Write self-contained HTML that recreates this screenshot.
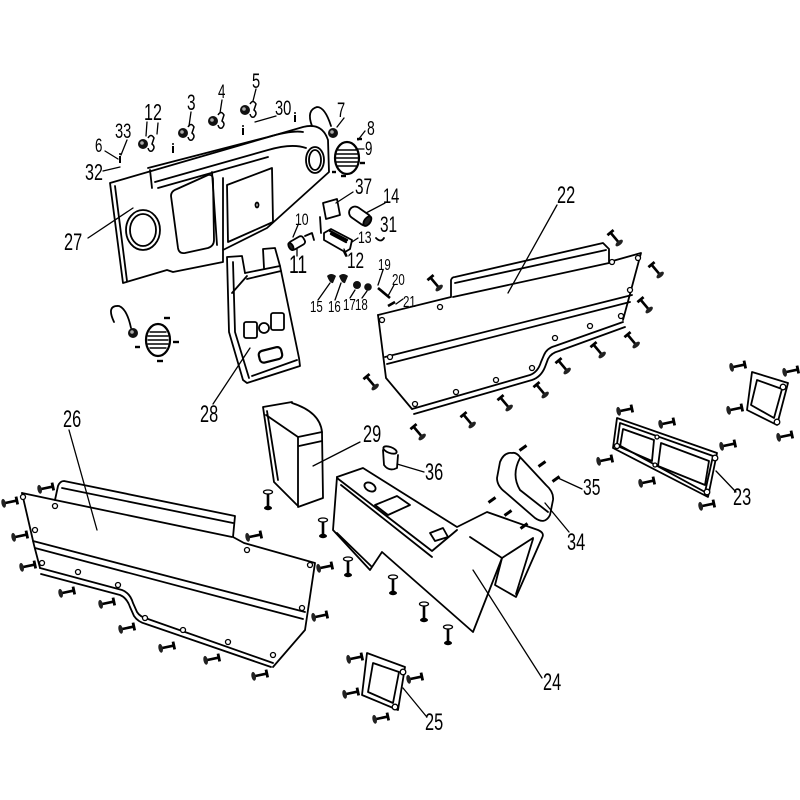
<!DOCTYPE html>
<html><head><meta charset="utf-8">
<style>
html,body{margin:0;padding:0;background:#fff}
svg{display:block}
text{font-family:"Liberation Sans",sans-serif;fill:#000}
</style></head>
<body>
<svg width="800" height="800" viewBox="0 0 800 800" xmlns="http://www.w3.org/2000/svg">
<defs>
<g id="b">
<line x1="-6" y1="0" x2="7" y2="0" stroke="#000" stroke-width="2.6"/>
<ellipse cx="-6.5" cy="0" rx="2.2" ry="4.5" fill="#222"/>
<line x1="7" y1="-4" x2="7" y2="4" stroke="#000" stroke-width="2.8"/>
</g>
<g id="v">
<ellipse cx="0" cy="-8" rx="4.5" ry="2" fill="#fff" stroke="#000" stroke-width="1.3"/>
<line x1="0" y1="-6" x2="0" y2="7" stroke="#000" stroke-width="2.6"/>
<ellipse cx="0" cy="8" rx="4" ry="2.2" fill="#000"/>
</g>
<g id="d"><line x1="-3.5" y1="2.5" x2="3.5" y2="-2.5" stroke="#000" stroke-width="3"/></g>
<g id="k"><circle cx="0" cy="0" r="5" fill="#111"/><circle cx="-1" cy="-1" r="1.8" fill="#aaa"/></g>
<g id="h"><path d="M5,-6 Q8,-11 11,-6 L9,0 Q13,3 9,7 Q6,8 5,4" fill="none" stroke="#000" stroke-width="1.5"/></g>
<g id="s"><line x1="0" y1="-3" x2="0" y2="4" stroke="#000" stroke-width="2"/><circle cx="0" cy="-5" r="1" fill="#000"/></g>
</defs>

<g fill="none" stroke="#000" stroke-width="1.8" stroke-linejoin="round" stroke-linecap="round">

<!-- ===== Dashboard 27 ===== -->
<path d="M110,183 L303,127 Q322,122 328,140 L329,172 L267,228 L223,250 L223,262 L173,272 L167,270 L123,283 Z"/>
<path d="M115,186 L127,281"/>
<path d="M148,168 L268,137 Q292,130 303,132"/>
<path d="M152,188 L150,170"/>
<path d="M155,182 L268,150 Q292,143 306,148"/>
<path d="M158,188 L268,157"/>
<path d="M177,189 L208,175 Q213,174 213,180 L214,240 Q214,246 208,248 L185,253 Q179,254 178,248 L171,196 Q171,191 177,189 Z"/>
<path d="M212,172 L217,245"/>
<path d="M223,178 L223,250"/>
<path d="M227,185 L272,168 L273,222 L228,242 Z"/>
<ellipse cx="257" cy="205" rx="1.5" ry="2.5"/>
<ellipse cx="143" cy="230" rx="17" ry="20"/>
<ellipse cx="143" cy="230" rx="13" ry="16"/>
<ellipse cx="315" cy="160" rx="9" ry="13"/>
<ellipse cx="315" cy="160" rx="6" ry="10"/>

<!-- loop + vent 9 -->
<path d="M312,126 Q306,110 317,107 Q325,107 331,126"/>
<ellipse cx="347" cy="158" rx="12" ry="16" stroke-width="2.2"/>
<path d="M338,150 H356 M336,154 H358 M336,158 H358 M336,162 H358 M338,166 H356" stroke-width="1.4"/>

<!-- left vent -->
<path d="M114,322 Q106,305 119,306 Q127,309 131,328"/>
<ellipse cx="158" cy="340" rx="12" ry="16" stroke-width="2.2"/>
<path d="M150,332 H166 M148,336 H168 M148,340 H168 M148,344 H168 M150,348 H166" stroke-width="1.4"/>

<!-- 37 plate, 14 cylinder, bracket -->
<path d="M323,203 L337,199 L340,215 L326,219 Z"/>
<path d="M320,217 L321,233"/>
<g transform="translate(360,216) rotate(35)">
<rect x="-12" y="-6" width="24" height="12" rx="6"/>
<ellipse cx="9" cy="0" rx="3" ry="5.5" fill="#222"/>
</g>
<path d="M376,238 Q381,243 384,238"/>
<path d="M324,233 L331,229 L352,240 L350,249 L345,252 L324,240 Z"/>
<path d="M330,231 L347,240 M331,234 L346,242" stroke-width="2.4"/>
<path d="M344,252 L346,256"/>
<g transform="translate(297,243) rotate(-30)">
<rect x="-8" y="-4.5" width="16" height="9" rx="3"/>
<ellipse cx="-7" cy="0" rx="2" ry="4" fill="#222"/>
</g>
<path d="M305,236 L312,233 L314,240"/>

<!-- 28 -->
<path d="M245,273 L242,256 L227,257 L229,332 L243,380 L247,383 L300,366 L299,358 L280,266 L275,248 L263,249 L264,268"/>
<path d="M245,273 L280,266 M247,279 L281,271"/>
<path d="M233,262 L235,332 L249,378"/>
<path d="M232,293 L247,276"/>
<path d="M252,376 L297,360"/>
<rect x="244" y="322" width="13" height="16" rx="2"/>
<circle cx="264" cy="328" r="5"/>
<rect x="271" y="313" width="13" height="17" rx="2"/>
<rect x="259" y="349" width="23" height="12" rx="4" transform="rotate(-14 270 355)" stroke-width="2.2"/>

<!-- 29 box -->
<path d="M263,407 L292,402 M263,407 L274,482 L297,505 M267,411 L278,480"/>
<path d="M266,415 L298,437 L322,432 M292,403 Q320,412 322,432"/>
<path d="M298,437 L298,507 L323,498 L322,432"/>
<path d="M299,446 L322,441"/>

<!-- 36 cup -->
<ellipse cx="390" cy="450" rx="7" ry="3" transform="rotate(20 390 450)"/>
<path d="M383,450 L384,465 Q389,472 397,468 L398,455"/>

<!-- 24 console -->
<path d="M337,477 L363,468 L457,527 L487,512 L538,530 Q545,533 542,538 L516,597 L495,585 L502,558"/>
<path d="M337,477 L333,530 L370,570 L382,552 L473,632 L502,558 L533,538"/>
<path d="M337,478 L432,551 L457,530"/>
<path d="M341,485 L432,557"/>
<path d="M470,537 L502,558"/>
<path d="M533,539 L516,594"/>
<path d="M337,533 L371,566"/>
<ellipse cx="370" cy="487" rx="6" ry="4" transform="rotate(30 370 487)"/>
<path d="M375,505 L397,496 L410,505 L388,515 Z"/>
<path d="M430,533 L443,528 L448,537 L435,541 Z"/>

<!-- 34 pad -->
<path d="M512,453 Q504,452 500,462 L497,478 Q497,486 505,492 L535,518 Q545,525 550,515 L553,500 Q554,492 546,485 L520,457 Q516,452 512,453 Z"/>
<path d="M520,458 Q511,475 520,490 L548,512"/>

<!-- 22 panel -->
<path d="M378,315 L451,297 L451,280 Q452,277 455,277 L603,243 L609,249 L609,262 L641,253 L623,320"/>
<path d="M455,283 L606,250"/>
<path d="M453,297 L609,263"/>
<path d="M378,315 L386,378 L412,409"/>
<path d="M385,357 L632,295 M387,364 L630,302"/>
<path d="M412,409 L530,375 Q538,372 541,362 L544,355 Q547,348 555,346 L623,322"/>
<path d="M414,414 L532,380 Q541,377 545,367 L548,359 Q551,353 559,351 L625,327"/>

<!-- 26 panel -->
<path d="M22,493 L55,500 L58,486 Q60,481 64,481 L235,516 L233,537 L244,543 L315,563 L305,630 L273,667"/>
<path d="M62,488 L233,523"/>
<path d="M55,500 L232,537"/>
<path d="M22,493 L34,545 L40,568"/>
<path d="M33,541 L305,612 M35,548 L303,619"/>
<path d="M40,568 L122,590 Q130,593 133,603 L137,612 Q140,617 148,619 L273,663"/>
<path d="M41,574 L120,595 Q127,598 130,607 L134,616 Q138,622 146,624 L271,667"/>

<!-- 23 frame -->
<path d="M617,418 L717,453 L708,497 L613,448 Z"/>
<path d="M620,423 L713,456 L705,492 L617,444 Z"/>
<path d="M623,429 L654,440 L652,461 L620,447 Z"/>
<path d="M661,443 L709,461 L705,485 L658,466 Z"/>
<path d="M752,372 L788,383 L777,425 L747,410 Z"/>
<path d="M757,380 L782,389 L774,418 L751,405 Z"/>

<!-- 25 frame -->
<path d="M367,653 L405,667 L398,710 L362,695 Z"/>
<path d="M373,663 L399,672 L393,703 L368,692 Z"/>

<!-- leaders -->
<g stroke-width="1.3">
<path d="M88,238 L133,208"/>
<path d="M105,151 L118,159 M127,140 L121,155 M103,171 L120,167"/>
<path d="M147,122 L146,136 M158,123 L157,134 M191,112 L189,126 M222,100 L220,113 M256,89 L253,101"/>
<path d="M276,116 L255,122 M344,118 L337,127 M365,131 L358,140 M364,149 L356,149"/>
<path d="M353,192 L336,203 M385,203 L366,213 M358,238 L352,242 M347,256 L344,249"/>
<path d="M298,225 L293,237 M297,256 L297,249"/>
<path d="M318,300 L330,283 M335,300 L341,283 M350,298 L355,290 M362,298 L367,291"/>
<path d="M383,270 L378,285 M394,285 L388,296 M403,299 L396,304"/>
<path d="M557,205 L508,293"/>
<path d="M69,430 L97,530"/>
<path d="M213,404 L250,348"/>
<path d="M360,442 L313,466"/>
<path d="M424,472 L397,464"/>
<path d="M582,489 L558,478"/>
<path d="M569,532 L545,503"/>
<path d="M473,570 L542,678"/>
<path d="M736,492 L716,471"/>
<path d="M426,716 L403,688"/>
</g>
</g>

<!-- caps and small parts -->
<g fill="#111">
<path d="M327,276 Q331,272 336,276 L333,283 Q330,284 327,276 Z"/>
<path d="M339,276 Q343,272 348,276 L345,283 Q342,284 339,276 Z"/>
<circle cx="357" cy="285" r="4"/>
<circle cx="368" cy="287" r="3.8"/>
</g>
<line x1="378" y1="288" x2="390" y2="298" stroke="#000" stroke-width="2.6"/>
<line x1="388" y1="306" x2="395" y2="302" stroke="#000" stroke-width="2.6"/>

<!-- knobs and hooks -->
<use href="#k" x="143" y="144"/><use href="#h" x="143" y="144"/>
<use href="#k" x="183" y="133"/><use href="#h" x="183" y="133"/>
<use href="#k" x="213" y="121"/><use href="#h" x="213" y="121"/>
<use href="#k" x="245" y="110"/><use href="#h" x="245" y="110"/>
<use href="#k" x="333" y="133"/>
<use href="#k" x="133" y="333"/>
<use href="#s" x="173" y="149"/>
<use href="#s" x="243" y="131"/>
<use href="#s" x="295" y="118"/>
<use href="#s" x="120" y="159"/>

<!-- dashes around vents -->
<g stroke="#000" stroke-width="2.4">
<line x1="357" y1="139" x2="362" y2="139"/>
<line x1="360" y1="163" x2="365" y2="163"/>
<line x1="341" y1="176" x2="346" y2="176"/>
<line x1="332" y1="172" x2="336" y2="172"/>
<line x1="164" y1="318" x2="170" y2="318"/>
<line x1="173" y1="342" x2="179" y2="342"/>
<line x1="157" y1="361" x2="163" y2="361"/>
<line x1="135" y1="347" x2="140" y2="347"/>
</g>

<!-- 34 dashes -->
<use href="#d" x="523" y="448"/><use href="#d" x="542" y="464"/><use href="#d" x="556" y="479"/>
<use href="#d" x="492" y="500"/><use href="#d" x="508" y="513"/><use href="#d" x="524" y="526"/>

<!-- holes -->
<g fill="#fff" stroke="#000" stroke-width="1.3">
<circle cx="382" cy="320" r="2.5"/><circle cx="440" cy="307" r="2.5"/><circle cx="612" cy="262" r="2.5"/>
<circle cx="638" cy="258" r="2.5"/><circle cx="630" cy="290" r="2.5"/><circle cx="390" cy="357" r="2.5"/>
<circle cx="415" cy="404" r="2.5"/><circle cx="456" cy="392" r="2.5"/><circle cx="496" cy="380" r="2.5"/>
<circle cx="532" cy="368" r="2.5"/><circle cx="555" cy="338" r="2.5"/><circle cx="590" cy="326" r="2.5"/>
<circle cx="621" cy="316" r="2.5"/>
<circle cx="23" cy="497" r="2.5"/><circle cx="55" cy="506" r="2.5"/><circle cx="35" cy="530" r="2.5"/>
<circle cx="42" cy="563" r="2.5"/><circle cx="78" cy="572" r="2.5"/><circle cx="118" cy="585" r="2.5"/>
<circle cx="145" cy="618" r="2.5"/><circle cx="183" cy="630" r="2.5"/><circle cx="228" cy="642" r="2.5"/>
<circle cx="273" cy="655" r="2.5"/><circle cx="302" cy="608" r="2.5"/><circle cx="310" cy="565" r="2.5"/>
<circle cx="247" cy="550" r="2.5"/>
<circle cx="715" cy="458" r="2.8"/><circle cx="707" cy="492" r="2.8"/><circle cx="617" cy="446" r="2.5"/>
<circle cx="657" cy="437" r="2"/><circle cx="655" cy="465" r="2"/>
<circle cx="783" cy="387" r="2.8"/><circle cx="777" cy="422" r="2.8"/>
<circle cx="403" cy="672" r="2.8"/><circle cx="395" cy="707" r="2.8"/>
</g>

<!-- bolts panel 22 -->
<use href="#b" transform="translate(435,283) rotate(230)"/>
<use href="#b" transform="translate(615,238) rotate(230)"/>
<use href="#b" transform="translate(656,270) rotate(230)"/>
<use href="#b" transform="translate(645,305) rotate(230)"/>
<use href="#b" transform="translate(632,340) rotate(230)"/>
<use href="#b" transform="translate(598,350) rotate(230)"/>
<use href="#b" transform="translate(563,366) rotate(230)"/>
<use href="#b" transform="translate(541,390) rotate(230)"/>
<use href="#b" transform="translate(505,403) rotate(230)"/>
<use href="#b" transform="translate(468,420) rotate(230)"/>
<use href="#b" transform="translate(418,432) rotate(230)"/>
<use href="#b" transform="translate(371,382) rotate(230)"/>

<!-- bolts panel 26 -->
<use href="#b" transform="translate(10,502) rotate(-12)"/>
<use href="#b" transform="translate(46,488) rotate(-12)"/>
<use href="#b" transform="translate(20,536) rotate(-12)"/>
<use href="#b" transform="translate(28,566) rotate(-12)"/>
<use href="#b" transform="translate(67,592) rotate(-12)"/>
<use href="#b" transform="translate(107,603) rotate(-12)"/>
<use href="#b" transform="translate(127,628) rotate(-12)"/>
<use href="#b" transform="translate(167,647) rotate(-12)"/>
<use href="#b" transform="translate(212,659) rotate(-12)"/>
<use href="#b" transform="translate(260,675) rotate(-12)"/>
<use href="#b" transform="translate(320,616) rotate(-12)"/>
<use href="#b" transform="translate(325,567) rotate(-12)"/>
<use href="#b" transform="translate(254,536) rotate(-12)"/>

<!-- bolts 23 -->
<use href="#b" transform="translate(625,410) rotate(-12)"/>
<use href="#b" transform="translate(667,423) rotate(-12)"/>
<use href="#b" transform="translate(728,445) rotate(-12)"/>
<use href="#b" transform="translate(605,460) rotate(-12)"/>
<use href="#b" transform="translate(647,482) rotate(-12)"/>
<use href="#b" transform="translate(707,505) rotate(-12)"/>
<use href="#b" transform="translate(738,366) rotate(-12)"/>
<use href="#b" transform="translate(791,371) rotate(-12)"/>
<use href="#b" transform="translate(735,409) rotate(-12)"/>
<use href="#b" transform="translate(785,436) rotate(-12)"/>

<!-- bolts 25 -->
<use href="#b" transform="translate(355,658) rotate(-12)"/>
<use href="#b" transform="translate(415,678) rotate(-12)"/>
<use href="#b" transform="translate(351,693) rotate(-12)"/>
<use href="#b" transform="translate(381,718) rotate(-12)"/>

<!-- vertical screws -->
<use href="#v" x="268" y="500"/>
<use href="#v" x="323" y="528"/>
<use href="#v" x="348" y="567"/>
<use href="#v" x="393" y="585"/>
<use href="#v" x="424" y="612"/>
<use href="#v" x="448" y="635"/>

<!-- labels -->
<g>
<text transform="translate(557,203) scale(0.68,1)" font-size="24">22</text>
<text transform="translate(63,427) scale(0.68,1)" font-size="24">26</text>
<text transform="translate(200,422) scale(0.68,1)" font-size="24">28</text>
<text transform="translate(363,442) scale(0.68,1)" font-size="24">29</text>
<text transform="translate(425,480) scale(0.68,1)" font-size="24">36</text>
<text transform="translate(583,495) scale(0.68,1)" font-size="23">35</text>
<text transform="translate(567,550) scale(0.68,1)" font-size="24">34</text>
<text transform="translate(733,505) scale(0.68,1)" font-size="24">23</text>
<text transform="translate(543,690) scale(0.68,1)" font-size="24">24</text>
<text transform="translate(425,730) scale(0.68,1)" font-size="24">25</text>
<text transform="translate(64,250) scale(0.68,1)" font-size="24">27</text>
<text transform="translate(355,194) scale(0.7,1)" font-size="22">37</text>
<text transform="translate(383,203) scale(0.7,1)" font-size="21">14</text>
<text transform="translate(380,232) scale(0.7,1)" font-size="22">31</text>
<text transform="translate(347,268) scale(0.7,1)" font-size="22">12</text>
<text transform="translate(289,273) scale(0.7,1)" font-size="25">11</text>
<text transform="translate(252,88) scale(0.7,1)" font-size="21">5</text>
<text transform="translate(218,98) scale(0.7,1)" font-size="19">4</text>
<text transform="translate(187,110) scale(0.7,1)" font-size="22">3</text>
<text transform="translate(144,120) scale(0.7,1)" font-size="23">12</text>
<text transform="translate(275,115) scale(0.7,1)" font-size="21">30</text>
<text transform="translate(337,117) scale(0.7,1)" font-size="21">7</text>
<text transform="translate(367,135) scale(0.7,1)" font-size="20">8</text>
<text transform="translate(365,155) scale(0.7,1)" font-size="19">9</text>
<text transform="translate(115,138) scale(0.7,1)" font-size="21">33</text>
<text transform="translate(95,152) scale(0.7,1)" font-size="19">6</text>
<text transform="translate(85,180) scale(0.7,1)" font-size="23">32</text>
<text transform="translate(295,225) scale(0.72,1)" font-size="17">10</text>
<text transform="translate(358,243) scale(0.72,1)" font-size="17">13</text>
<text transform="translate(310,312) scale(0.72,1)" font-size="16">15</text>
<text transform="translate(328,312) scale(0.72,1)" font-size="16">16</text>
<text transform="translate(343,310) scale(0.72,1)" font-size="16">17</text>
<text transform="translate(355,310) scale(0.72,1)" font-size="16">18</text>
<text transform="translate(378,270) scale(0.72,1)" font-size="16">19</text>
<text transform="translate(392,285) scale(0.72,1)" font-size="16">20</text>
<text transform="translate(403,307) scale(0.72,1)" font-size="16">21</text>
</g>
</svg>
</body></html>
